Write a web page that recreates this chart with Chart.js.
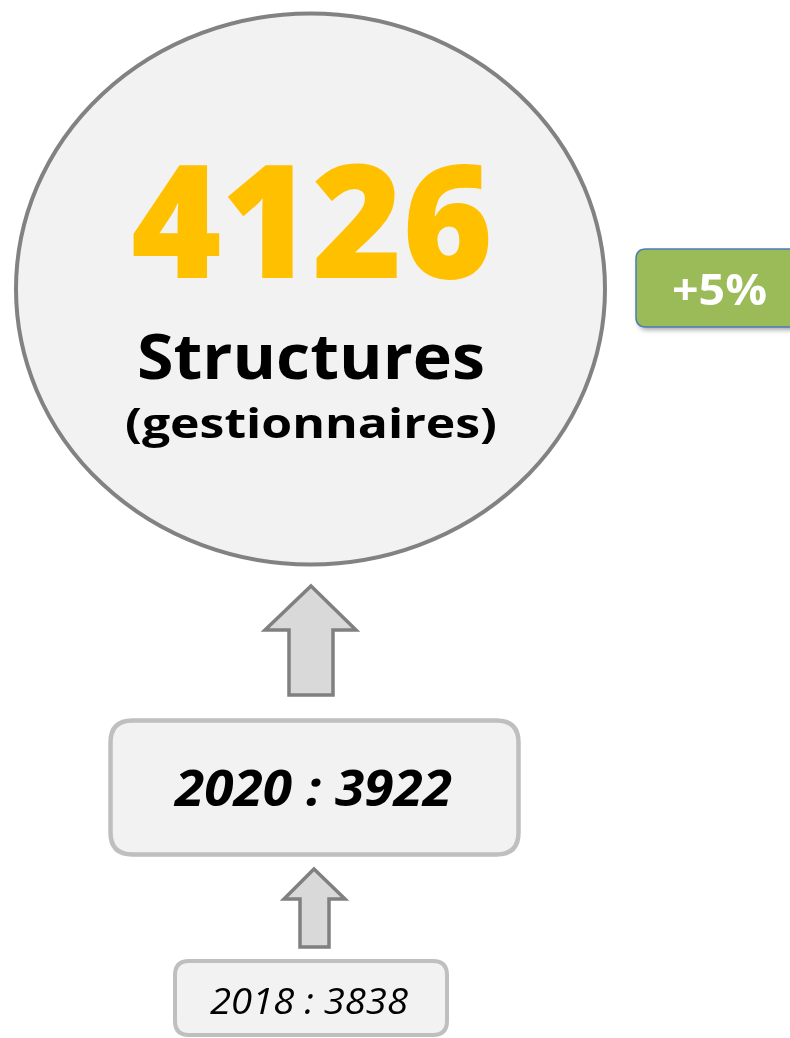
<!DOCTYPE html>
<html>
<head>
<meta charset="utf-8">
<script src="https://cdn.jsdelivr.net/npm/chart.js@4/dist/chart.umd.min.js"></script>
<style>
  html, body { margin: 0; padding: 0; background: #fff; }
  #wrap { width: 790px; height: 1038px; }
</style>
</head>
<body>
<div id="wrap"><canvas id="chart" width="790" height="1038"></canvas></div>
<script>
// data
const years = ["2018", "2020", "2022"];
const counts = [3838, 3922, 4126];
const mainLabel = "Structures";
const subLabel = "(gestionnaires)";

const FONT = "'Open Sans', 'Liberation Sans', sans-serif";

// draw text squeezed/stretched to a given width
const fitText = (ctx, text, cx, base, font, width) => {
  ctx.font = font;
  const w = ctx.measureText(text).width;
  ctx.save();
  ctx.translate(cx, base);
  ctx.scale(width / w, 1);
  ctx.textAlign = "center";
  ctx.textBaseline = "alphabetic";
  ctx.fillText(text, 0, 0);
  ctx.restore();
};

const roundRect = (ctx, x, y, w, h, r) => {
  ctx.beginPath();
  ctx.moveTo(x + r, y);
  ctx.lineTo(x + w - r, y);
  ctx.quadraticCurveTo(x + w, y, x + w, y + r);
  ctx.lineTo(x + w, y + h - r);
  ctx.quadraticCurveTo(x + w, y + h, x + w - r, y + h);
  ctx.lineTo(x + r, y + h);
  ctx.quadraticCurveTo(x, y + h, x, y + h - r);
  ctx.lineTo(x, y + r);
  ctx.quadraticCurveTo(x, y, x + r, y);
  ctx.closePath();
};

const upArrow = (ctx, tipX, tipY, headY, headL, headR, shaftL, shaftR, bottom) => {
  ctx.beginPath();
  ctx.moveTo(tipX, tipY);
  ctx.lineTo(headR, headY);
  ctx.lineTo(shaftR, headY);
  ctx.lineTo(shaftR, bottom);
  ctx.lineTo(shaftL, bottom);
  ctx.lineTo(shaftL, headY);
  ctx.lineTo(headL, headY);
  ctx.closePath();
  ctx.fillStyle = "#d9d9d9";
  ctx.fill();
  ctx.lineWidth = 3.5;
  ctx.strokeStyle = "#808080";
  ctx.lineJoin = "miter";
  ctx.stroke();
};

const infographic = {
  id: "infographic",
  afterDraw(chart) {
    const ctx = chart.ctx;
    const vals = chart.data.datasets[0].data;
    const labs = chart.data.labels;
    const cur = vals[vals.length - 1];
    const prev = vals[vals.length - 2];
    const oldest = vals[0];
    const growth = Math.round((cur - prev) / prev * 100);

    ctx.save();
    ctx.fillStyle = "#fff";
    ctx.fillRect(0, 0, chart.width, chart.height);

    // big circle
    ctx.beginPath();
    ctx.ellipse(310.5, 289, 294.5, 275.5, 0, 0, Math.PI * 2);
    ctx.fillStyle = "#f2f2f2";
    ctx.fill();
    ctx.lineWidth = 4;
    ctx.strokeStyle = "#828282";
    ctx.stroke();

    ctx.fillStyle = "#ffc000";
    fitText(ctx, String(cur), 312, 278, "800 158px " + FONT, 362);
    ctx.fillStyle = "#000";
    fitText(ctx, mainLabel, 311, 379, "700 62px " + FONT, 348);
    fitText(ctx, subLabel, 311, 438, "700 42px " + FONT, 372);

    // growth badge
    ctx.save();
    ctx.shadowColor = "rgba(0,0,0,0.35)";
    ctx.shadowBlur = 5;
    ctx.shadowOffsetX = 2;
    ctx.shadowOffsetY = 3;
    roundRect(ctx, 636, 249, 180, 78, 10);
    ctx.fillStyle = "#9bbb59";
    ctx.fill();
    ctx.restore();
    roundRect(ctx, 636, 249, 180, 78, 10);
    ctx.lineWidth = 1.5;
    ctx.strokeStyle = "#4a7ebb";
    ctx.stroke();
    ctx.fillStyle = "#fff";
    fitText(ctx, (growth >= 0 ? "+" : "") + growth + "%", 719.5, 305, "700 43px " + FONT, 95);

    // arrow to circle
    upArrow(ctx, 311, 586, 630, 265, 356, 289, 333, 695);

    // 2020 box
    roundRect(ctx, 110.5, 720.5, 408, 134, 22);
    ctx.fillStyle = "#f2f2f2";
    ctx.fill();
    ctx.lineWidth = 4.5;
    ctx.strokeStyle = "#bfbfbf";
    ctx.stroke();
    ctx.fillStyle = "#000";
    fitText(ctx, labs[labs.length - 2] + " : " + prev, 313.5, 806, "italic 700 50px " + FONT, 277);

    // arrow to 2020 box
    upArrow(ctx, 314, 869, 899, 284, 345, 300, 329, 947);

    // 2018 box
    roundRect(ctx, 175, 961, 272, 74, 14);
    ctx.fillStyle = "#f2f2f2";
    ctx.fill();
    ctx.lineWidth = 4;
    ctx.strokeStyle = "#bfbfbf";
    ctx.stroke();
    ctx.fillStyle = "#000";
    fitText(ctx, labs[0] + " : " + oldest, 309, 1014, "italic 400 36px " + FONT, 198);

    ctx.restore();
  }
};

new Chart(document.getElementById("chart"), {
  type: "bar",
  data: {
    labels: years,
    datasets: [{ data: counts, backgroundColor: "rgba(0,0,0,0)", borderWidth: 0 }]
  },
  options: {
    responsive: false,
    animation: false,
    devicePixelRatio: 1,
    layout: { padding: 0 },
    plugins: { legend: { display: false }, tooltip: { enabled: false } },
    scales: { x: { display: false }, y: { display: false } }
  },
  plugins: [infographic]
});
</script>
</body>
</html>
